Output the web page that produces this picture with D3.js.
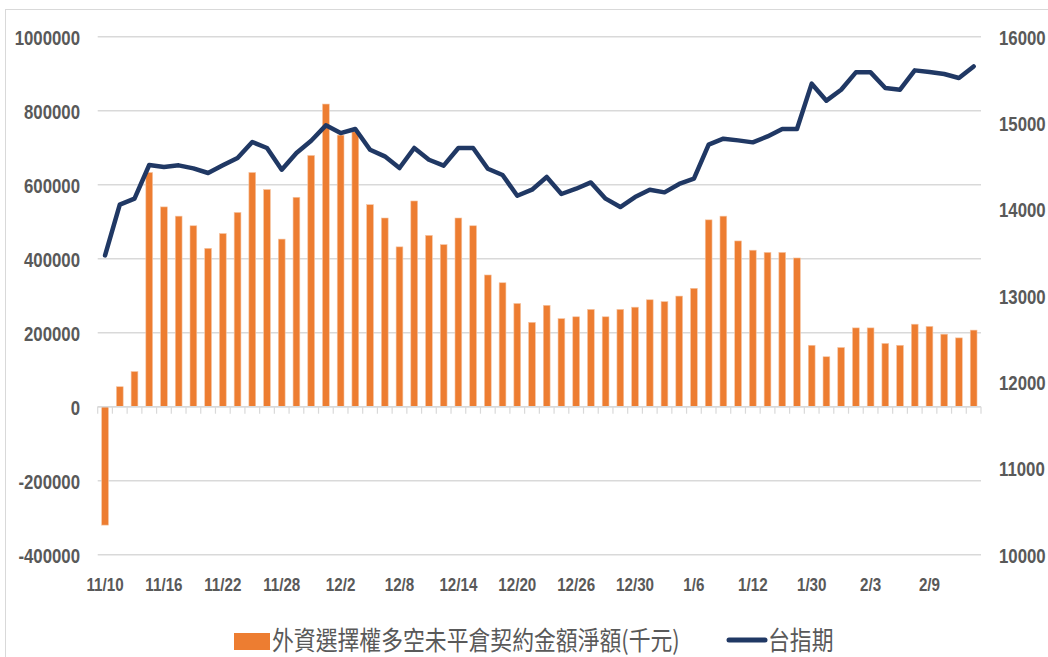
<!DOCTYPE html>
<html>
<head>
<meta charset="utf-8">
<script src="https://cdn.jsdelivr.net/npm/d3@7"></script>
<style>
  body { margin: 0; background: #fff; }
  svg { display: block; }
</style>
</head>
<body>
<script>
var dates = ['11/10', '11/11', '11/14', '11/15', '11/16', '11/17', '11/18', '11/21', '11/22', '11/23',
  '11/24', '11/25', '11/28', '11/29', '11/30', '12/1', '12/2', '12/5', '12/6', '12/7',
  '12/8', '12/9', '12/12', '12/13', '12/14', '12/15', '12/16', '12/19', '12/20', '12/21',
  '12/22', '12/23', '12/26', '12/27', '12/28', '12/29', '12/30', '1/3', '1/4', '1/5',
  '1/6', '1/9', '1/10', '1/11', '1/12', '1/13', '1/16', '1/17', '1/30', '1/31',
  '2/1', '2/2', '2/3', '2/6', '2/7', '2/8', '2/9', '2/10', '2/13', '2/14'];

// 外資選擇權多空未平倉契約金額淨額(千元)
var netAmount = [-320000, 54000, 95000, 633000, 540000, 515000, 489000, 428000, 468000, 525000,
  633000, 587000, 453000, 566000, 679000, 818000, 734000, 743000, 546000, 510000,
  432000, 556000, 463000, 438000, 510000, 489000, 356000, 335000, 279000, 228000,
  274000, 238000, 243000, 263000, 243000, 263000, 269000, 289000, 284000, 299000,
  320000, 505000, 515000, 448000, 423000, 417000, 417000, 402000, 166000, 135000,
  160000, 213000, 213000, 171000, 166000, 223000, 217000, 196000, 186000, 207000];

// 台指期
var taiex = [13467, 14054, 14124, 14514, 14490, 14510, 14475, 14421, 14510, 14595,
  14780, 14711, 14459, 14653, 14795, 14973, 14884, 14931, 14691, 14614,
  14479, 14711, 14575, 14506, 14711, 14711, 14471, 14398, 14158, 14228,
  14375, 14178, 14239, 14312, 14124, 14027, 14143, 14228, 14197, 14294,
  14355, 14749, 14819, 14799, 14776, 14845, 14931, 14931, 15456, 15259,
  15386, 15587, 15587, 15406, 15386, 15610, 15591, 15568, 15522, 15656];

var leftTicks = [-400000, -200000, 0, 200000, 400000, 600000, 800000, 1000000];
var rightTicks = [10000, 11000, 12000, 13000, 14000, 15000, 16000];
var seriesNames = ['外資選擇權多空未平倉契約金額淨額(千元)', '台指期'];

var W = 1048, H = 657;
var plotL = 97.7, plotR = 981, plotT = 36.7, plotB = 554.7;
var barColor = '#ed7d31', lineColor = '#203864', gridColor = '#d9d9d9', textColor = '#595959';
var axisFont = '"Liberation Sans", Arial, sans-serif';
var squeeze = 'scale(0.8,1)';

var svg = d3.select('body')
  .append('svg')
  .attr('width', W)
  .attr('height', H);

// chart border
svg.append('rect')
  .attr('x', 5.5)
  .attr('y', 9.5)
  .attr('width', W)
  .attr('height', H)
  .attr('fill', 'none')
  .attr('stroke', gridColor)
  .attr('stroke-width', 1);

var x = d3.scaleBand()
  .domain(dates)
  .range([plotL, plotR])
  .paddingInner(0.54)
  .paddingOuter(0.27);

var yLeft = d3.scaleLinear()
  .domain([-400000, 1000000])
  .range([plotB, plotT]);

var yRight = d3.scaleLinear()
  .domain([10000, 16000])
  .range([plotB, plotT]);

// gridlines
svg.append('g')
  .selectAll('line')
  .data(leftTicks)
  .enter()
  .append('line')
  .attr('x1', plotL)
  .attr('x2', plotR)
  .attr('y1', function(d) { return yLeft(d); })
  .attr('y2', function(d) { return yLeft(d); })
  .attr('stroke', gridColor)
  .attr('stroke-width', 1.5);

function styleLabels(g) {
  g.select('.domain').remove();
  g.selectAll('text')
    .attr('x', 0)
    .attr('font-family', axisFont)
    .attr('font-size', 21)
    .attr('font-weight', 'bold')
    .attr('fill', textColor)
    .attr('dy', '0.36em')
    .attr('transform', squeeze);
}

// left axis labels
var leftAxis = d3.axisLeft(yLeft)
  .tickValues(leftTicks)
  .tickSize(0)
  .tickPadding(0)
  .tickFormat(function(d) { return String(d); });

svg.append('g')
  .attr('transform', 'translate(80,0)')
  .call(leftAxis)
  .call(styleLabels);

// right axis labels
var rightAxis = d3.axisRight(yRight)
  .tickValues(rightTicks)
  .tickSize(0)
  .tickPadding(0)
  .tickFormat(function(d) { return String(d); });

svg.append('g')
  .attr('transform', 'translate(999,0)')
  .call(rightAxis)
  .call(styleLabels);

// bars
svg.append('g')
  .selectAll('rect')
  .data(netAmount)
  .enter()
  .append('rect')
  .attr('x', function(d, i) { return x(dates[i]); })
  .attr('width', x.bandwidth())
  .attr('y', function(d) { return Math.min(yLeft(d), yLeft(0)); })
  .attr('height', function(d) { return Math.abs(yLeft(d) - yLeft(0)); })
  .attr('fill', barColor)
  .attr('stroke', '#f6c5a3')
  .attr('stroke-width', 0.6);

// category axis at zero
var step = x.step();
var tickPos = dates.map(function(d) { return x(d) - (step - x.bandwidth()) / 2; });
tickPos.push(plotR);

svg.append('line')
  .attr('x1', plotL)
  .attr('x2', plotR)
  .attr('y1', yLeft(0))
  .attr('y2', yLeft(0))
  .attr('stroke', gridColor)
  .attr('stroke-width', 1.5);

svg.append('g')
  .selectAll('line')
  .data(tickPos)
  .enter()
  .append('line')
  .attr('x1', function(d) { return d; })
  .attr('x2', function(d) { return d; })
  .attr('y1', yLeft(0))
  .attr('y2', yLeft(0) + 7)
  .attr('stroke', gridColor)
  .attr('stroke-width', 1.2);

// date labels, every fourth trading day
svg.append('g')
  .selectAll('g')
  .data(dates.filter(function(d, i) { return i % 4 === 0; }))
  .enter()
  .append('g')
  .attr('transform', function(d) { return 'translate(' + (x(d) + x.bandwidth() / 2) + ',591)'; })
  .append('text')
  .attr('transform', squeeze)
  .attr('text-anchor', 'middle')
  .attr('font-family', axisFont)
  .attr('font-size', 19)
  .attr('font-weight', 'bold')
  .attr('fill', textColor)
  .text(function(d) { return d; });

// line
var line = d3.line()
  .x(function(d, i) { return x(dates[i]) + x.bandwidth() / 2; })
  .y(function(d) { return yRight(d); });

svg.append('path')
  .datum(taiex)
  .attr('d', line)
  .attr('fill', 'none')
  .attr('stroke', lineColor)
  .attr('stroke-width', 4.5)
  .attr('stroke-linejoin', 'round')
  .attr('stroke-linecap', 'round');

// legend
var legend = svg.append('g');
var cjkFont = '"Noto Sans CJK TC", "Noto Sans CJK SC", sans-serif';

legend.append('rect')
  .attr('x', 234)
  .attr('y', 633)
  .attr('width', 36)
  .attr('height', 17)
  .attr('fill', barColor);

legend.append('text')
  .attr('transform', 'translate(272,650) scale(0.84,1)')
  .attr('font-family', cjkFont)
  .attr('font-size', 26)
  .attr('fill', textColor)
  .text(seriesNames[0]);

legend.append('line')
  .attr('x1', 729)
  .attr('x2', 765)
  .attr('y1', 640)
  .attr('y2', 640)
  .attr('stroke', lineColor)
  .attr('stroke-width', 5)
  .attr('stroke-linecap', 'round');

legend.append('text')
  .attr('transform', 'translate(768,650) scale(0.84,1)')
  .attr('font-family', cjkFont)
  .attr('font-size', 26)
  .attr('fill', textColor)
  .text(seriesNames[1]);
</script>
</body>
</html>
